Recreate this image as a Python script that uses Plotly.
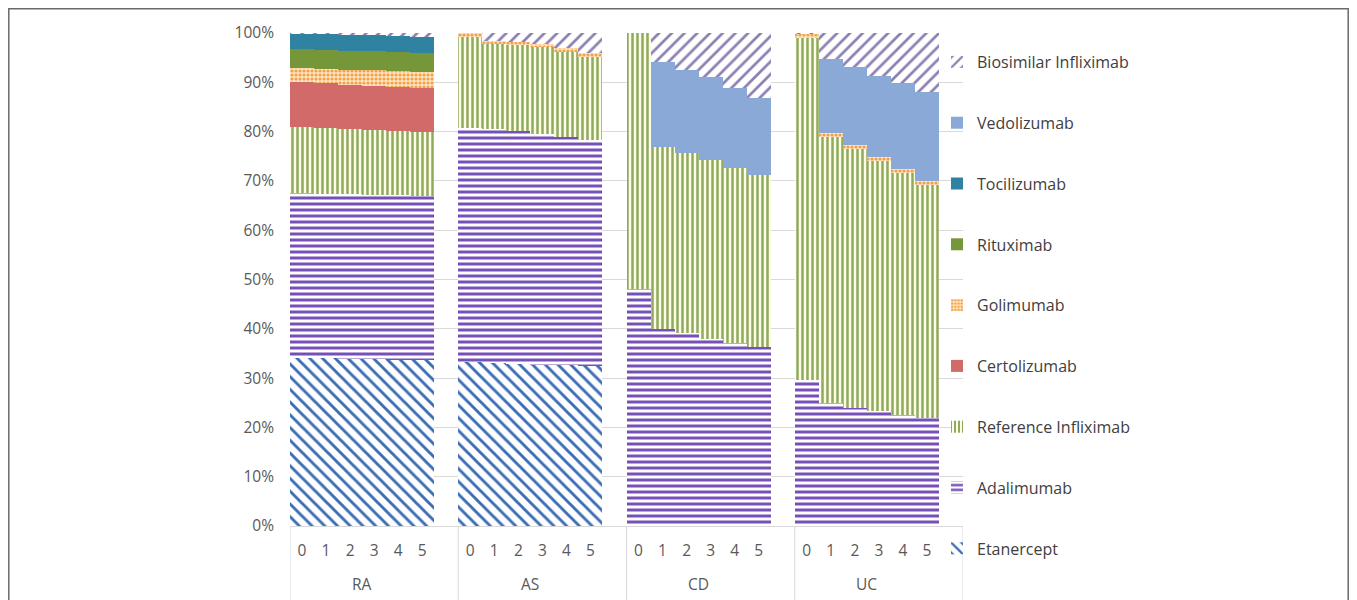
import plotly.graph_objects as go

groups = ["RA", "AS", "CD", "UC"]
years = ["0", "1", "2", "3", "4", "5"]
y_ticks = [0, 10, 20, 30, 40, 50, 60, 70, 80, 90, 100]

# values per group, 6 years each (share of patients, %)
etanercept = {"RA": [34.0, 34.0, 33.9, 33.8, 33.7, 33.6],
              "AS": [33.2, 33.0, 32.9, 32.7, 32.6, 32.4],
              "CD": [0, 0, 0, 0, 0, 0],
              "UC": [0, 0, 0, 0, 0, 0]}
adalimumab = {"RA": [33.5, 33.4, 33.4, 33.4, 33.4, 33.4],
              "AS": [47.6, 47.6, 47.3, 46.9, 46.4, 45.8],
              "CD": [48.0, 40.0, 39.1, 38.0, 37.1, 36.3],
              "UC": [29.6, 24.9, 23.9, 23.4, 22.6, 22.0]}
ref_infliximab = {"RA": [13.5, 13.4, 13.3, 13.2, 13.1, 13.0],
                  "AS": [18.4, 17.2, 17.4, 17.5, 17.1, 16.9],
                  "CD": [52.0, 36.9, 36.6, 36.2, 35.5, 34.9],
                  "UC": [69.3, 54.0, 52.6, 50.7, 49.0, 47.2]}
certolizumab = {"RA": [9.0, 9.0, 8.9, 8.9, 8.9, 8.8],
                "AS": [0, 0, 0, 0, 0, 0],
                "CD": [0, 0, 0, 0, 0, 0],
                "UC": [0, 0, 0, 0, 0, 0]}
golimumab = {"RA": [3.0, 3.0, 3.0, 3.1, 3.1, 3.2],
             "AS": [0.8, 0.6, 0.5, 0.7, 0.9, 0.8],
             "CD": [0, 0, 0, 0, 0, 0],
             "UC": [1.0, 0.8, 0.8, 0.8, 0.8, 0.8]}
rituximab = {"RA": [3.8, 3.8, 3.9, 3.9, 3.9, 4.0],
             "AS": [0, 0, 0, 0, 0, 0],
             "CD": [0, 0, 0, 0, 0, 0],
             "UC": [0, 0, 0, 0, 0, 0]}
tocilizumab = {"RA": [3.1, 3.2, 3.2, 3.2, 3.2, 3.1],
               "AS": [0, 0, 0, 0, 0, 0],
               "CD": [0, 0, 0, 0, 0, 0],
               "UC": [0, 0, 0, 0, 0, 0]}
vedolizumab = {"RA": [0, 0, 0, 0, 0, 0],
               "AS": [0, 0, 0, 0, 0, 0],
               "CD": [0, 17.2, 16.8, 16.8, 16.2, 15.6],
               "UC": [0, 15.1, 15.9, 16.4, 17.4, 18.0]}
bio_infliximab = {"RA": [0.1, 0.2, 0.4, 0.6, 0.7, 0.9],
                  "AS": [0.0, 1.6, 1.9, 2.2, 3.0, 4.1],
                  "CD": [0.0, 5.9, 7.5, 9.0, 11.2, 13.2],
                  "UC": [0.1, 5.2, 6.8, 8.7, 10.2, 12.0]}

series = [
    ("Etanercept", etanercept, dict(shape="\\", fgcolor="#3b6db4", bgcolor="white", size=9, solidity=0.32)),
    ("Adalimumab", adalimumab, dict(shape="-", fgcolor="#7650b8", bgcolor="white", size=6, solidity=0.5)),
    ("Reference Infliximab", ref_infliximab, dict(shape="|", fgcolor="#8eaa5c", bgcolor="#fcfce8", size=5, solidity=0.5)),
    ("Certolizumab", certolizumab, None),
    ("Golimumab", golimumab, dict(shape=".", fgcolor="#f3a04e", bgcolor="#fde7c4", size=4, solidity=0.5)),
    ("Rituximab", rituximab, None),
    ("Tocilizumab", tocilizumab, None),
    ("Vedolizumab", vedolizumab, None),
    ("Biosimilar Infliximab", bio_infliximab, dict(shape="/", fgcolor="#8c80b2", bgcolor="white", size=9, solidity=0.3)),
]
solid_colors = {"Certolizumab": "#d26a6a", "Rituximab": "#76963a",
                "Tocilizumab": "#2f83a0", "Vedolizumab": "#8aa9d6"}

slots = len(years) + 1  # one empty slot after each group
xs = [g * slots + i for g in range(len(groups)) for i in range(len(years))]

fig = go.Figure()
n = len(series)
for idx, (name, data, pat) in enumerate(series):
    yvals = [v for g in groups for v in data[g]]
    if pat is None:
        marker = dict(color=solid_colors[name], line=dict(width=0))
    else:
        marker = dict(color=pat["bgcolor"], line=dict(width=0),
                      pattern=dict(shape=pat["shape"], fgcolor=pat["fgcolor"],
                                   bgcolor=pat["bgcolor"], size=pat["size"],
                                   solidity=pat["solidity"], fillmode="replace"))
    fig.add_trace(go.Bar(x=xs, y=yvals, name=name, marker=marker, width=1.0,
                         legendgroup=name, legendrank=n - idx, hoverinfo="name+y"))

# page body has an 8px margin; figure coordinates are reference minus 8
OFF = 8
W, H = 1357 - 2 * OFF, 600 - OFF
L, R, T, B = 290 - OFF, 963 - OFF, 33 - OFF, 526 - OFF
pw, ph = R - L, B - T

def px2x(px):
    return (px - OFF - L) / pw

def py2y(py):
    return (B - (py - OFF)) / ph

shapes = []
for g in range(len(groups) + 1):
    xv = g * slots - 0.5
    shapes.append(dict(type="line", xref="x", yref="paper", x0=xv, x1=xv,
                       y0=0, y1=py2y(620), line=dict(color="#d9d9d9", width=1)))
shapes.append(dict(type="rect", xref="paper", yref="paper",
                   x0=px2x(8.8), x1=px2x(1348.2), y0=py2y(8.8), y1=py2y(640),
                   line=dict(color="#6a6a6a", width=1.5), fillcolor="rgba(0,0,0,0)"))

annotations = []
for g, name in enumerate(groups):
    annotations.append(dict(x=g * slots + (len(years) - 1) / 2, y=py2y(584),
                            xref="x", yref="paper", text=name, showarrow=False,
                            yanchor="middle", xanchor="center",
                            font=dict(size=15.5, color="#595959")))

fig.update_layout(
    width=W, height=H,
    margin=dict(l=L, r=W - R, t=T, b=H - B),
    barmode="stack", bargap=0,
    plot_bgcolor="white", paper_bgcolor="white",
    font=dict(family="Open Sans, Lato, sans-serif", color="#595959"),
    xaxis=dict(range=[-0.5, len(groups) * slots - 0.5],
               tickvals=xs, ticktext=[y for g in groups for y in years],
               tickfont=dict(size=15.5, color="#595959"),
               showgrid=False, zeroline=False, showline=True,
               linecolor="#d9d9d9", ticks="", ticklen=0, ticklabelstandoff=10),
    yaxis=dict(range=[0, 100], tickvals=y_ticks,
               ticktext=[f"{t}%" for t in y_ticks],
               tickfont=dict(size=15.5, color="#595959"),
               showgrid=True, gridcolor="#d9d9d9", gridwidth=1,
               zeroline=False, showline=False, ticks="", ticklabelstandoff=15),
    legend=dict(x=px2x(937), y=py2y(45), xanchor="left", yanchor="top",
                traceorder="grouped", tracegroupgap=37, maxheight=700,
                font=dict(size=16, color="#404040"), bgcolor="rgba(0,0,0,0)",
                itemwidth=30),
    shapes=shapes, annotations=annotations,
    showlegend=True,
)

fig.write_html("out.html")
